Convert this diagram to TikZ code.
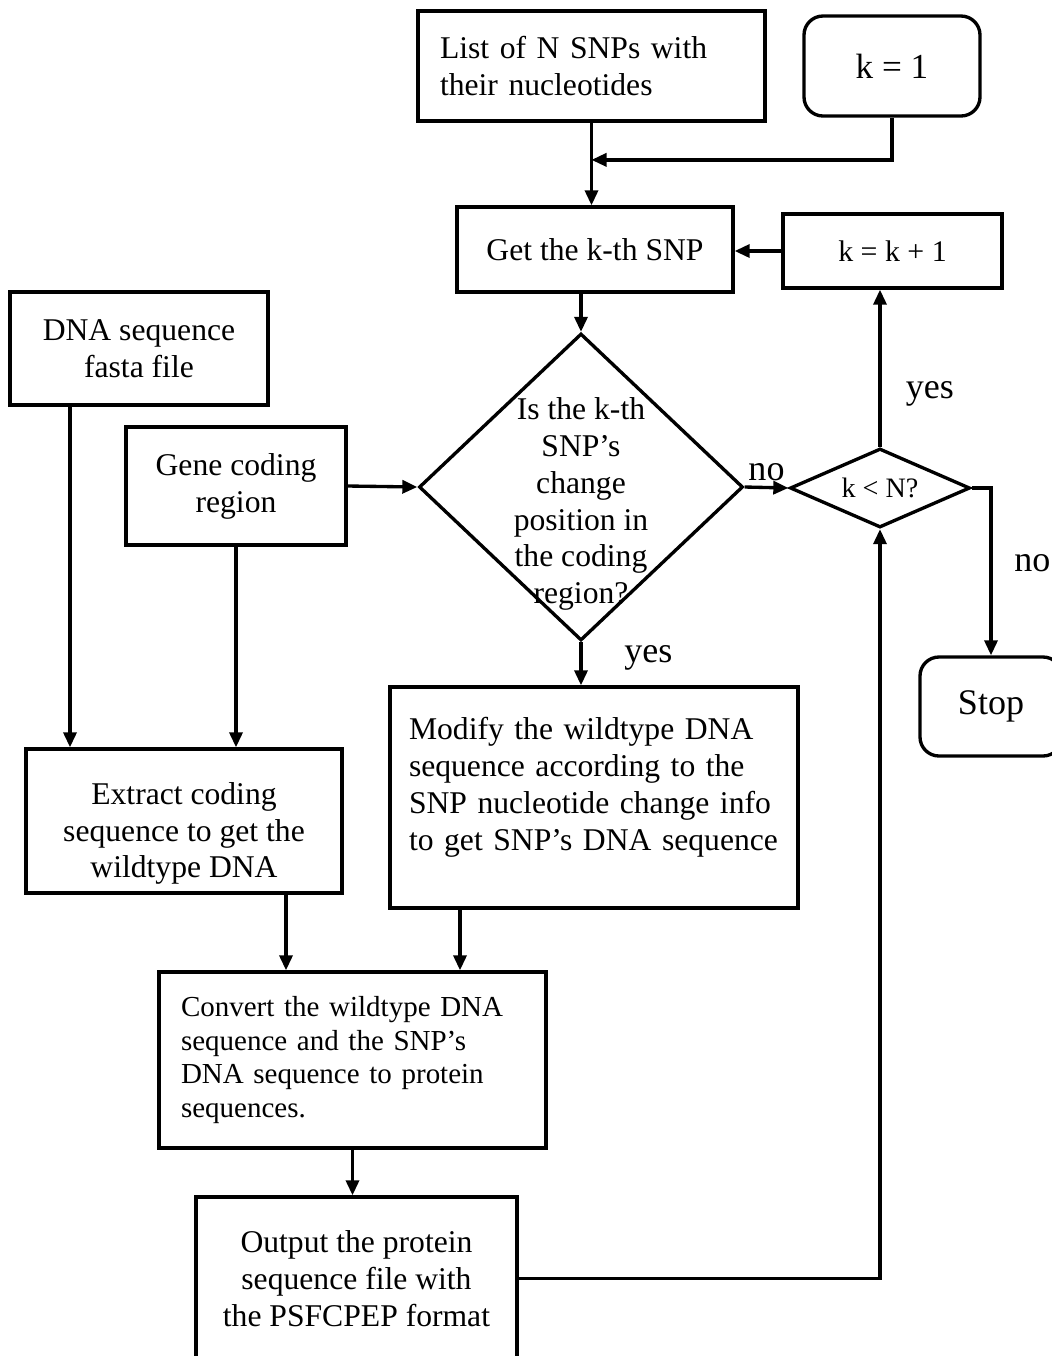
\documentclass[tikz,border=0pt]{standalone}
\usepackage{fontspec}
\setmainfont{Liberation Serif}
\usepackage{tikz}
\usetikzlibrary{
  shapes.geometric,
  positioning,
  calc,
  arrows.meta
}
\newcommand{\fsmain}{\fontsize{18pt}{21pt}\selectfont}
\newcommand{\fssmall}{\fontsize{16.5pt}{19.3pt}\selectfont}
\newcommand{\fsbig}{\fontsize{20.5pt}{24pt}\selectfont}

\begin{document}
\begin{tikzpicture}[
    line width=1.9pt,
    arr/.style={-{Triangle[length=0.3cm,width=0.26cm]}},
    box/.style={draw, rectangle, inner sep=0pt, align=center, font=\fsmain},
    leftbox/.style={draw, rectangle, inner ysep=0pt, inner xsep=0.44cm,
                    align=left, font=\fsmain},
    roundbox/.style={draw, rectangle, rounded corners=0.38cm, inner sep=0pt,
                     font=\fsbig},
    decision/.style={draw, diamond, inner sep=0pt},
    lbl/.style={font=\fsbig, inner sep=1pt},
  ]
  \useasboundingbox (0,0) rectangle (21.04,-27.12);
  \clip (0,0) rectangle (21.04,-27.12);

  % top row
  \node[leftbox, minimum width=6.94cm, minimum height=2.2cm, text width=6.06cm]
    (list) at (11.83,-1.32) {List of N SNPs with\\their nucleotides};
  \node[roundbox, minimum width=3.52cm, minimum height=2.0cm,
        font=\fontsize{20pt}{24pt}\selectfont]
    (kone) at (17.84,-1.32) {k = 1};

  \node[box, minimum width=5.52cm, minimum height=1.7cm]
    (getsnp) at (11.9,-4.99) {Get the k-th SNP};
  \node[box, minimum width=4.38cm, minimum height=1.48cm,
        font=\fontsize{17pt}{20pt}\selectfont]
    (kinc) at (17.85,-5.02) {k = k + 1};

  % inputs
  \node[box, minimum width=5.16cm, minimum height=2.26cm]
    (fasta) at (2.78,-6.97) {DNA sequence\\fasta file};
  \node[box, minimum width=4.4cm, minimum height=2.36cm]
    (gene) at (4.72,-9.72) {Gene coding\\region};

  % decisions
  \node[decision, minimum width=6.48cm, minimum height=6.14cm,
        label={[font=\fsmain, align=center, yshift=-0.34cm]center:{Is the k-th\\SNP's\\change\\position in\\the coding\\region?}}]
    (isin) at (11.62,-9.74) {};
  \node[decision, minimum width=3.6cm, minimum height=1.58cm, aspect=2.28,
        font=\fontsize{16pt}{19pt}\selectfont]
    (kltn) at (17.6,-9.76) {k {\textless} N?};

  \node[roundbox, minimum width=2.84cm, minimum height=1.98cm]
    (stop) at (19.82,-14.13) {Stop};

  % processing
  \node[leftbox, minimum width=8.16cm, minimum height=4.42cm, text width=7.4cm,
        inner xsep=0.38cm]
    (modify) at (11.88,-15.95)
    {Modify the wildtype DNA\\sequence according to the\\SNP nucleotide change info\\to get SNP's DNA sequence\\[-0.2cm]\mbox{}};
  \node[box, minimum width=6.32cm, minimum height=2.88cm]
    (extract) at (3.68,-16.42)
    {Extract coding\\sequence to get the\\wildtype DNA\\[-1.1cm]\mbox{}};
  \node[leftbox, minimum width=7.7cm, minimum height=3.52cm, text width=6.86cm,
        font=\fssmall]
    (convert) at (7.05,-21.2)
    {Convert the wildtype DNA\\sequence and the SNP's\\DNA sequence to protein\\sequences.};
  \node[box, minimum width=6.42cm, minimum height=3.26cm]
    (output) at (7.13,-25.57)
    {Output the protein\\sequence file with\\the PSFCPEP format};

  % connectors
  \coordinate (merge) at ($(list.south)!0.45!(list.south |- getsnp.north)$);
  \draw[arr] (list.south) -- (list.south |- getsnp.north);
  \draw[arr] (kone.south) |- (merge);
  \draw[arr] (kinc.west) -- (kinc.west -| getsnp.east);
  \draw[arr] (isin.north |- getsnp.south) -- (isin.north);
  \draw[arr] (gene.east) -- (isin.west);
  \draw[arr] (isin.east) -- node[lbl, midway, above=2pt] {no} (kltn.west);
  \draw[arr] (kltn.north) -- node[lbl, pos=0.34, right=0.45cm] {yes}
    (kltn.north |- kinc.south);
  \draw[arr] (kltn.east) -| node[lbl, pos=0.725, right=0.4cm] {no} (stop.north);
  \draw[arr] (isin.south) -- node[lbl, pos=0.36, right=0.8cm] {yes}
    (isin.south |- modify.north);
  \draw[arr] ([xshift=-1.38cm]fasta.south) -- ([xshift=-1.38cm]fasta.south |- extract.north);
  \draw[arr] (gene.south) -- (gene.south |- extract.north);
  \draw[arr] ([xshift=2.04cm]extract.south) -- ([xshift=2.04cm]extract.south |- convert.north);
  \draw[arr] ([xshift=-2.68cm]modify.south) -- ([xshift=-2.68cm]modify.south |- convert.north);
  \draw[arr] (convert.south) -- (convert.south |- output.north);
  \draw[arr] (output.east) -| (kltn.south);
\end{tikzpicture}
\end{document}
